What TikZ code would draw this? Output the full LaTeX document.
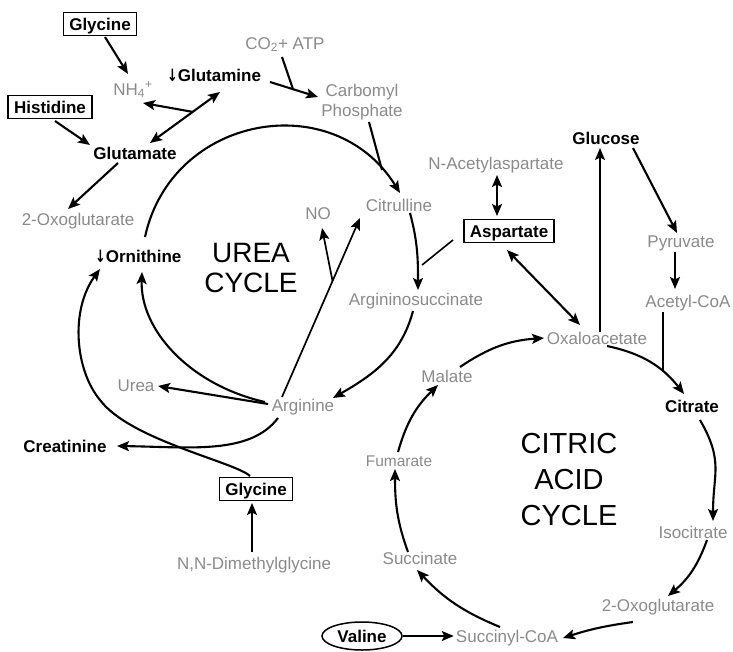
\documentclass[tikz,border=0pt]{standalone}
\usepackage{fontspec}
\usepackage{graphicx}
\setmainfont{Liberation Sans}
\newfontfamily\arrfont{DejaVu Sans}
\usetikzlibrary{arrows.meta,calc,shapes.geometric}
\definecolor{lbl}{RGB}{138,138,138}
\newcommand{\dnarr}{\scalebox{0.75}[1]{\arrfont\bfseries\fontsize{17}{20}\selectfont ↓}}
\begin{document}
\begin{tikzpicture}[x=1pt,y=-1pt,
  >={Stealth[length=12pt,width=10pt,inset=2.5pt]},
  lab/.style={font=\fontsize{17}{20}\selectfont, inner sep=2pt, text height=12pt, text depth=0pt, text=lbl},
  key/.style={lab, text=black, font=\fontsize{17}{20}\selectfont\bfseries},
  boxed/.style={key, draw=black, line width=1.5pt, inner xsep=6pt, inner ysep=5.5pt},
  oval/.style={key, draw=black, ellipse, line width=1.5pt, minimum width=80pt, minimum height=28pt, inner sep=0pt},
  twoline/.style={font=\fontsize{17}{20}\selectfont, text=lbl, align=center, inner sep=2pt},
  title/.style={font=\fontsize{28}{30}\selectfont, align=center, text=black, inner sep=0pt},
  flow/.style={line width=2.1pt, ->},
  both/.style={line width=2.1pt, <->},
  plain/.style={line width=2.1pt},
  thin/.style={line width=1.6pt}]
\useasboundingbox (0,0) rectangle (733,651);

% ---------- nodes ----------
\node[boxed] (glyA) at (100,24) {Glycine};
\node[lab] (nh4) at (133,89) {NH\textsubscript{4}\textsuperscript{+}};
\node[key, anchor=west] (gln) at (165,75) {\dnarr Glutamine};
\node[boxed] (hist) at (50,107) {Histidine};
\node[key] (glu) at (135,153) {Glutamate};
\node[lab] (oxo1) at (78,219) {2-Oxoglutarate};
\node[lab] (co2) at (285,43) {CO\textsubscript{2}+ ATP};
\node[twoline] (carb) at (362,102) {Carbomyl\\Phosphate};
\node[lab] (cit) at (399,205) {Citrulline};
\node[lab] (no) at (318,213) {NO};
\node[key, anchor=west] (orn) at (93,256) {\dnarr Ornithine};
\node[title] (ureat) at (251,268) {UREA\\CYCLE};
\node[lab] (argsuc) at (416,299) {Argininosuccinate};
\node[lab] (arg) at (303,405) {Arginine};
\node[lab] (urea) at (136,385) {Urea};
\node[key] (creat) at (65,446) {Creatinine};
\node[boxed] (gly2) at (256,489) {Glycine};
\node[lab] (dmg) at (254,563) {N,N-Dimethylglycine};
\node[lab] (nacet) at (496,163) {N-Acetylaspartate};
\node[boxed] (asp) at (509,231) {Aspartate};
\node[key] (glc) at (606,138) {Glucose};
\node[lab] (pyr) at (681,241) {Pyruvate};
\node[lab] (acoa) at (688,301) {Acetyl-CoA};
\node[lab] (oaa) at (597,338) {Oxaloacetate};
\node[lab] (malate) at (447,376) {Malate};
\node[key] (citrate) at (692,406) {Citrate};
\node[title, font=\fontsize{29}{36}\selectfont] (tcat) at (569,480) {CITRIC\\ACID\\CYCLE};
\node[lab] (isocit) at (693,532) {Isocitrate};
\node[lab] (oxo2) at (658,605) {2-Oxoglutarate};
\node[lab] (succoa) at (507,636) {Succinyl-CoA};
\node[oval] (val) at (362,636) {Valine};
\node[lab] (succ) at (420,558) {Succinate};
\node[lab, font=\fontsize{15.5}{18}\selectfont] (fum) at (399,460) {Fumarate};

% ---------- top left ----------
\draw[flow] ($(glyA)+(5,13)$) -- ($(nh4)+(-5,-15)$);
\draw[flow] ($(hist)+(5,14)$) -- ($(glu)+(-45,-8)$);
\coordinate (gA) at ($(glu)+(15,-10)$);
\coordinate (gB) at ($(gln.west)+(55,17)$);
\draw[both] (gA) -- (gB);
\coordinate (J1) at ($(gA)!0.61!(gB)$);
\draw[flow] (J1) -- ($(nh4)+(10,14)$);
\draw[flow] ($(glu)+(-17,10)$) -- ($(oxo1)+(-10,-10)$);

% ---------- carbamoyl phosphate ----------
\coordinate (cS) at ($(gln.west)+(105,7)$);
\coordinate (cE) at ($(carb)+(-44,-5)$);
\draw[flow] (cS) -- (cE);
\coordinate (J2) at ($(cS)!0.48!(cE)$);
\draw[plain] ($(co2)+(-3,14)$) -- (J2);

% ---------- urea cycle ----------
\draw[flow] ($(orn.west)+(52,-19)$) .. controls (171.5,114.5) and (333.9,86.4) .. ($(cit)+(1,-12)$);
\coordinate (J3) at (382,170);
\draw[plain] ($(carb)+(7,20)$) -- (J3);

\coordinate (aS) at ($(arg)+(-21,-8)$);
\coordinate (aE) at ($(cit)+(-39,13)$);
\draw[flow, line width=1.7pt] (aS) -- (aE);
\coordinate (J4) at ($(aS)!0.648!(aE)$);
\draw[flow, line width=1.7pt] (J4) -- ($(no)+(4,15)$);

\draw[flow] ($(cit)+(11,8)$) to[out=-75,in=90] ($(argsuc)+(2,-9)$);
\coordinate (J5) at ($(argsuc)+(6,-34)$);
\draw[thin] ($(asp)+(-56,9)$) -- (J5);

\draw[flow] ($(argsuc)+(-3,12)$) to[out=-105,in=30] ($(arg)+(30,-7)$);
\draw[flow] ($(arg)+(-35,-1)$) -- ($(urea)+(22,1)$);
\draw[flow] ($(arg)+(-38,-3)$) .. controls (190,385) and (140,330) .. ($(orn.west)+(49,16)$);

\coordinate (K1) at (100,400);
\draw[flow] ($(gly2)+(-6,-13)$) .. controls (235,462) and (130,440) .. (K1)
  .. controls (75,370) and (70,310) .. ($(orn.west)+(7,13)$);
\draw[flow] ($(arg)+(-25,13)$) .. controls (250,455) and (190,447) .. ($(creat)+(52,0)$);
\draw[flow] ($(dmg)+(-2,-11)$) -- ($(gly2)+(-4,14)$);

% ---------- aspartate / glucose ----------
\draw[both] ($(nacet)+(1,12)$) -- ($(asp)+(-12,-15)$);
\draw[both] ($(asp)+(-2,19)$) -- ($(oaa)+(-17,-13)$);
\draw[flow, line width=1.7pt] ($(oaa)+(3,-6)$) -- ($(glc)+(-6,10)$);
\draw[flow] ($(glc)+(27,10)$) -- ($(pyr)+(-4,-8)$);
\draw[flow] ($(pyr)+(-6,11)$) -- ($(acoa)+(-13,-12)$);

% ---------- citric acid cycle ----------
\draw[flow] ($(oaa)+(10,8)$) to[bend left=20] coordinate[pos=0.69] (J6) ($(citrate)+(-8,-12)$);
\coordinate (aq) at ($(acoa)+(-25,11)$);
\draw[line width=1.7pt] (aq) -- (aq |- J6);
\draw[flow] ($(citrate)+(8,14)$) to[out=-60,in=90,looseness=1.2] ($(isocit)+(20,-11)$);
\draw[flow] ($(isocit)+(14,8)$) to[bend left=15] ($(oxo2)+(10,-9)$);
\draw[flow] ($(oxo2)+(-25,17)$) to[bend right=5] ($(succoa)+(56,2)$);
\draw[flow] (val.east) -- (succoa.west);
\draw[flow] ($(succoa)+(-7,-9)$) to[bend left=12] ($(succ)+(-3,12)$);
\draw[flow] ($(succ)+(-12,-6)$) to[out=110,in=-90] ($(fum)+(-4,9)$);
\draw[flow] ($(fum)+(-1,-8)$) to[bend left=15] ($(malate)+(-9,9)$);
\draw[flow] ($(malate)+(13,-9)$) to[bend left=15] ($(oaa)+(-53,0)$);
\end{tikzpicture}
\end{document}
